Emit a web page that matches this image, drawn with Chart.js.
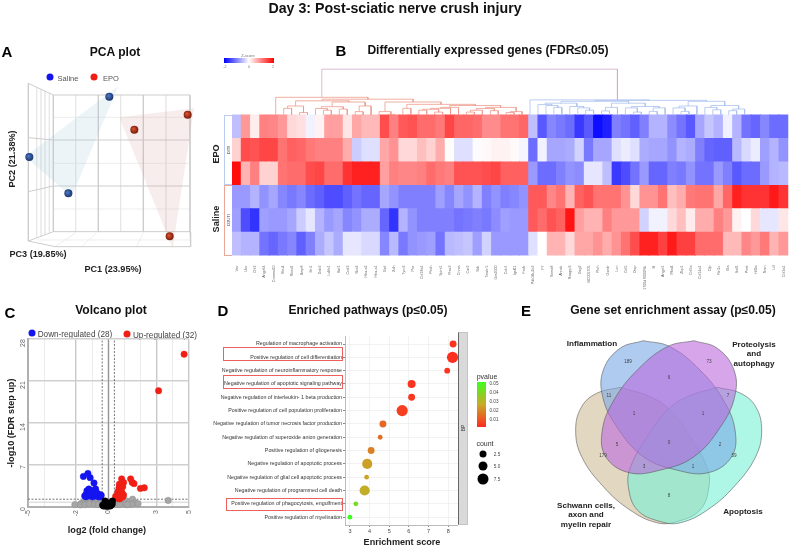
<!DOCTYPE html>
<html>
<head>
<meta charset="utf-8">
<script src="https://cdn.jsdelivr.net/npm/chart.js@4"></script>
<style>
body { margin: 0; background: #fff; }
#page { position: relative; width: 790px; height: 547px; overflow: hidden; font-family: "Liberation Sans", Arial, sans-serif; color: #222; filter: blur(0.35px); }
canvas { position: absolute; }
.t { position: absolute; white-space: nowrap; transform: translate(-50%, -50%); }
.v { position: absolute; white-space: nowrap; transform: translate(-50%, -50%) rotate(-90deg); }
.h { font-weight: bold; font-size: 12.1px; color: #111; }
.ltr { font-weight: bold; font-size: 15px; color: #000; }
.b { font-weight: bold; font-size: 9.1px; color: #222; }
.w { font-weight: bold; font-size: 8.1px; color: #222; }
.n { font-size: 4.6px; color: #444; }
.dot { position: absolute; border-radius: 50%; transform: translate(-50%, -50%); }
.box { position: absolute; box-sizing: border-box; }
</style>
</head>
<body>
<div id="page">
	<div class="t" style="left:395px;top:8px;font-size:14.2px;font-weight:bold;color:#111">Day 3: Post-sciatic nerve crush injury</div>

	<div class="t ltr" style="left:7px;top:51px">A</div>
	<div class="t h" style="left:115px;top:52px">PCA plot</div>
	<div class="dot" style="left:50px;top:77px;width:7px;height:7px;background:#1414f0"></div>
	<div class="t" style="left:68px;top:78px;font-size:7.5px;color:#555">Saline</div>
	<div class="dot" style="left:94px;top:77px;width:7px;height:7px;background:#f01e14"></div>
	<div class="t" style="left:111px;top:78px;font-size:7.5px;color:#555">EPO</div>
	<div class="v b" style="left:12px;top:159px">PC2 (21.38%)</div>
	<div class="t b" style="left:38px;top:254px">PC3 (19.85%)</div>
	<div class="t b" style="left:113px;top:269px">PC1 (23.95%)</div>

	<div class="t ltr" style="left:341px;top:50px">B</div>
	<div class="t h" style="left:488px;top:50px">Differentially expressed genes (FDR≤0.05)</div>
	<div class="t" style="left:248px;top:54.5px;font-size:4px;color:#777">Z-score</div>
	<div class="box" style="left:224px;top:58px;width:50px;height:5px;background:linear-gradient(to right,#00f,#fff,#f00)"></div>
	<div class="t" style="left:225px;top:67px;font-size:3.5px;color:#777">-2</div>
	<div class="t" style="left:249px;top:67px;font-size:3.5px;color:#777">0</div>
	<div class="t" style="left:273px;top:67px;font-size:3.5px;color:#777">2</div>
	<div class="box" style="left:224px;top:115px;width:8px;height:70px;border:1px solid #bccdf2;border-right:0"></div>
	<div class="box" style="left:224px;top:185px;width:8px;height:71px;border:1px solid #eba899;border-right:0"></div>
	<div class="v" style="left:228px;top:150px;font-size:4px;color:#444">D3TI</div>
	<div class="v" style="left:228px;top:220px;font-size:4px;color:#444">D3UTI</div>
	<div class="v b" style="left:216px;top:154px">EPO</div>
	<div class="v b" style="left:216px;top:219px">Saline</div>

	<div class="t ltr" style="left:10px;top:312px">C</div>
	<div class="t h" style="left:111px;top:310px">Volcano plot</div>
	<div class="dot" style="left:32px;top:333px;width:7px;height:7px;background:#1414f0"></div>
	<div class="t" style="left:75px;top:334px;font-size:8.2px;color:#444">Down-regulated (28)</div>
	<div class="dot" style="left:127px;top:334px;width:7px;height:7px;background:#f01e14"></div>
	<div class="t" style="left:165px;top:335px;font-size:8.2px;color:#444">Up-regulated (32)</div>
	<div class="v b" style="left:11px;top:423px">-log10 (FDR step up)</div>
	<div class="t b" style="left:107px;top:530px">log2 (fold change)</div>

	<div class="t ltr" style="left:223px;top:310px">D</div>
	<div class="t h" style="left:368px;top:310px">Enriched pathways (p≤0.05)</div>
	<div class="box" style="left:223px;top:347px;width:120px;height:14px;border:1px solid #ee5f5f"></div>
	<div class="box" style="left:223px;top:375px;width:120px;height:14px;border:1px solid #ee5f5f"></div>
	<div class="box" style="left:226px;top:498px;width:117px;height:13px;border:1px solid #ee5f5f"></div>
	<div class="box" style="left:458px;top:332px;width:10px;height:193px;background:#d9d9d9;border:1px solid #c4c4c4;border-left:1px solid #666"></div>
	<div class="v" style="left:463px;top:428px;font-size:4.5px;color:#333">BP</div>
	<div class="t b" style="left:402px;top:542px">Enrichment score</div>
	<div class="t" style="left:487px;top:376px;font-size:7px;color:#333">pvalue</div>
	<div class="box" style="left:477px;top:382px;width:9px;height:45px;background:linear-gradient(to top,#ff2a1e,#c8aa28 50%,#3cff1e)"></div>
	<div class="t" style="left:494px;top:383px;font-size:4.6px;color:#444">0.05</div>
	<div class="t" style="left:494px;top:392px;font-size:4.6px;color:#444">0.04</div>
	<div class="t" style="left:494px;top:401px;font-size:4.6px;color:#444">0.03</div>
	<div class="t" style="left:494px;top:410px;font-size:4.6px;color:#444">0.02</div>
	<div class="t" style="left:494px;top:419px;font-size:4.6px;color:#444">0.01</div>
	<div class="t" style="left:485px;top:443px;font-size:7px;color:#333">count</div>
	<div class="dot" style="left:483px;top:454px;width:7px;height:7px;background:#000"></div>
	<div class="dot" style="left:483px;top:466px;width:9px;height:9px;background:#000"></div>
	<div class="dot" style="left:483px;top:479px;width:11px;height:11px;background:#000"></div>
	<div class="t" style="left:497px;top:454px;font-size:4.6px;color:#444">2.5</div>
	<div class="t" style="left:497px;top:466px;font-size:4.6px;color:#444">5.0</div>
	<div class="t" style="left:497px;top:479px;font-size:4.6px;color:#444">7.5</div>

	<div class="t ltr" style="left:526px;top:310px">E</div>
	<div class="t h" style="left:673px;top:310px">Gene set enrichment assay (p≤0.05)</div>

	<canvas id="pca" width="200" height="220" style="left:0;top:40px"></canvas>
	<canvas id="heat" width="558" height="222" style="left:232px;top:68px"></canvas>
	<canvas id="volcano" width="186" height="195" style="left:14px;top:330px"></canvas>
	<canvas id="dots" width="248" height="205" style="left:210px;top:332px"></canvas>
	<canvas id="venn" width="280" height="247" style="left:510px;top:300px"></canvas>

	<div class="t w" style="left:592px;top:343px">Inflammation</div>
	<div class="t w" style="left:754px;top:344px">Proteolysis</div>
	<div class="t w" style="left:754px;top:353px">and</div>
	<div class="t w" style="left:754px;top:363px">autophagy</div>
	<div class="t w" style="left:586px;top:505px">Schwann cells,</div>
	<div class="t w" style="left:586px;top:514px">axon and</div>
	<div class="t w" style="left:586px;top:524px">myelin repair</div>
	<div class="t w" style="left:743px;top:511px">Apoptosis</div>
	<div class="t n" style="left:628px;top:361px">189</div>
	<div class="t n" style="left:709px;top:361px">73</div>
	<div class="t n" style="left:669px;top:377px">6</div>
	<div class="t n" style="left:609px;top:395px">11</div>
	<div class="t n" style="left:634px;top:413px">1</div>
	<div class="t n" style="left:703px;top:413px">1</div>
	<div class="t n" style="left:728px;top:395px">7</div>
	<div class="t n" style="left:617px;top:444px">5</div>
	<div class="t n" style="left:669px;top:442px">0</div>
	<div class="t n" style="left:720px;top:444px">2</div>
	<div class="t n" style="left:603px;top:455px">179</div>
	<div class="t n" style="left:734px;top:455px">59</div>
	<div class="t n" style="left:644px;top:466px">3</div>
	<div class="t n" style="left:693px;top:466px">1</div>
	<div class="t n" style="left:669px;top:495px">8</div>
</div>
<script>
Chart.defaults.animation = false;
Chart.defaults.responsive = false;
Chart.defaults.layout.autoPadding = false;
Chart.defaults.font.family = '"Liberation Sans", Arial, sans-serif';
Chart.defaults.plugins.legend.display = false;
Chart.defaults.plugins.tooltip.enabled = false;

// ---- A: PCA (coordinates, plot units = 1/3 px)
var salinePoints = [[328, 170], [88, 351], [205, 460]];
var epoPoints = [[403, 269], [563, 224], [509, 589]];
var salineHull = [[355, 138], [75, 350], [215, 470], [355, 138]];
var epoHull = [[358, 232], [582, 205], [518, 625], [358, 232]];
var wallThin = [
	[227,165,227,575],[362,165,362,575],[498,165,498,575],[160,232,570,232],[160,370,570,370],[160,507,570,507],
	[110,142,110,594],[123,148,123,589],[135,153,135,584],[148,159,148,579],
	[165,620,228,578],[245,620,290,578],[410,620,430,578],[110,600,570,600]
];
var wallThick = [
	[160,165,570,165],[570,165,570,575],[160,575,570,575],[160,165,160,575],
	[295,165,295,575],[430,165,430,575],[160,300,570,300],[160,438,570,438],
	[85,130,160,165],[85,603,160,575],[85,130,85,603],[85,293,160,300],[85,455,160,438],
	[165,620,572,620],[570,575,572,620],[85,603,165,620]
];

// ---- B: heatmap, z-scores per row
var genes = ["Vav","Ubc","Chl3","Angptl4","Commd10","Sbu4","Rbed1","Bmp6","Itln1","Dab2","Ldlrb1","Bst1","Cxcl3","Ska3","Hba-a2","Hba-a1",
	"Esrl","Xdh","Tyro3","Pcx","Col18a1","Pxdn","Spint1","Prss3","Cnnm","Car2","Sdk","Tmsb 5","Gm2000","Cdo1","Igsf11","Fxdk",
	"Pdk1Bu1b2","F7","Sema6","Ahnak","Rasgrp3","Gsg2","BC005705","Ptch","Gsodr","Lcn","Cel5","Dtsp","1700d 6000Rik","Ifi","Angpt1","Mbd4",
	"Zbp1","Col5a","Col14a1","Cfp","Rin1c","Ela","Ikzf1","Prmt","Hif3a","Nrsn","Lif","Col3a1"];
var epoRow1 = [-.5,.8,.15,1,.95,.8,.3,.25,-.1,.1,.75,.75,.2,.7,.55,.55,1.4,1,1.3,1.35,1.15,1.15,1.05,1.45,1.2,1.2,1.15,.9,.9,1.1,1.1,1.2,
	-.5,-1.3,-.95,-1.05,-1.15,-1.55,-1.3,-1.9,-1.75,-1,-1.1,-1.25,-1,-.6,-.6,-.9,-1.1,-1.3,-.7,-.45,-.6,-.12,-.6,-1.1,-1.2,-.95,-1.15,-1.15];
var epoRow2 = [.35,1.4,1.35,1.45,1.45,1.1,1.25,1.2,1.05,1,1,1,.65,-.4,-.25,-.25,.7,.85,.3,.3,.5,.35,.65,.02,-.25,-.25,-.02,.05,.1,.1,.05,-.08,
	-1.15,-.1,-.7,-.7,-.65,-.35,-1.05,-.7,-.7,-.25,-.15,-.25,-.65,-.7,-.7,-.85,-.6,-.65,-1,-1.2,-1.25,-1.25,-.55,-.3,-.15,-.75,-.6,-.85];
var epoRow3 = [1.9,.6,1,.35,.35,1.1,1.15,1.15,1.4,1.45,1.15,1.15,1.6,1.75,1.75,1.75,.75,1,.95,.95,1,1.15,1.05,1,1.35,1.35,1.35,1.4,1.45,1.25,1.25,1.25,
	-.8,-1.15,-1.15,-1,-.85,-.9,-.2,-.2,-.5,-1.55,-1.4,-1.1,-.8,-1.2,-1.2,-1,-1.05,-.85,-1.1,-1.1,-.8,-1,-1.3,-1.15,-1.15,-.8,-.6,-.55];
var salRow1 = [-.8,-.8,-.6,-.85,-.7,-.95,-1.05,-.95,-1.15,-1.25,-1.4,-1.4,-1.25,-1.1,-1.2,-1.2,-.7,-.85,-1,-1,-1,-1,-.75,-.95,-.7,-.85,-.6,-1,-.85,-1,-.95,-.85,
	1.3,1.3,.95,1.1,.6,1.25,1.35,1.1,1.1,1.1,.85,.3,.85,.85,1.1,.5,.65,1.05,1.1,1.1,.7,1.2,1.75,1.6,1.6,1.6,1.8,1.6];
var salRow2 = [-.75,-1.4,-1.6,-.75,-.8,-.8,-.7,-.4,-.2,-.6,-.8,-.7,-.95,-.85,-.65,-.65,-1.2,-1.6,-.6,-.85,-1,-1,-1,-1,-1.1,-1.05,-1,-1.05,-.9,-.75,-.8,-.8,
	1.3,1.15,1.35,1.25,1.85,.75,.6,.6,1,.8,.8,.8,-.35,-.1,-.1,.3,.5,.15,.65,.65,1,.8,.1,0,.3,-.2,-.2,.2];
var salRow3 = [-.5,-.6,-.6,-1.1,-1.2,-1.05,-.95,-1.25,-1,-.65,-.45,-.65,-.2,-.2,-.3,-.3,-.95,-.55,-1.05,-.85,-.8,-.75,-1.1,-.55,-.5,-.45,-.75,-.35,-.8,-.8,-.8,-.8,
	-.25,0,.6,.6,.3,.7,.7,.85,.65,.85,1.1,1.4,1.75,1.75,1.5,1.8,1.5,1.5,1.15,1.15,1.15,.55,.55,.95,.8,1.05,.6,.8];

// dendrogram links: [xLeft, hLeft, xRight, hRight, hTop], x in column index
var dendroRed = [
	[1,0,2,0,.28],[3,0,4,0,.1],[1.5,.28,3.5,.1,.38],[6,0,7,0,.2],[5,0,6.5,.2,.27],[8,0,9,0,.25],[5.75,.27,8.5,.25,.35],
	[10,0,11,0,.14],[10.5,.14,12,0,.38],[7.1,.35,11.25,.38,.55],[2.5,.38,9.2,.55,.6],[14,0,15,0,.02],[13,0,14.5,.02,.14],
	[16,0,17,0,.28],[18,0,19,0,.2],[20,0,21,0,.12],[18.5,.2,20.5,.12,.24],[19.5,.24,22,0,.28],[20.75,.28,23,0,.32],
	[24,0,25,0,.12],[24.5,.12,26,0,.2],[27,0,28,0,.18],[25.25,.2,27.5,.18,.27],[29,0,30,0,.1],[29.5,.1,31,0,.14],
	[26.4,.27,30.25,.14,.32],[21.9,.32,28.3,.32,.4],[16.5,.28,25.1,.4,.45],[13.75,.14,20.8,.45,.55],[5.85,.6,17.3,.55,.67],[0,0,11.6,.67,.75]
];
var dendroBlue = [
	[35,0,36,0,.32],[34,0,35.5,.32,.4],[33,0,34.75,.4,.44],[39,0,40,0,.2],[38,0,39.5,.2,.3],[37,0,38.75,.3,.36],[33.9,.44,37.9,.36,.5],
	[41,0,42,0,.17],[41.5,.17,43,0,.32],[45,0,46,0,.12],[44,0,45.5,.12,.3],[47,0,48,0,.15],[47.5,.15,49,0,.3],[44.75,.3,48.25,.3,.36],
	[42.25,.32,46.5,.36,.5],[35.9,.5,44.4,.5,.58],[51,0,52,0,.15],[50,0,51.5,.15,.3],[50.75,.3,53,0,.38],[55,0,56,0,.22],[54,0,55.5,.22,.32],
	[57,0,58,0,.18],[57.5,.18,59,0,.25],[54.75,.32,58.25,.25,.4],[51.9,.38,56.5,.4,.58],[40.15,.58,54.2,.58,.62],[32,0,47,.62,.64]
];
var dendroTop = [[5.8,.75,43,.64,1.95]];

// ---- C: volcano
var downRegulated = [[-1.55,5.1],[-1.27,5.6],[-1.13,4.9],[-.89,4],[-1.21,3],[-1.33,2.7],[-1.39,2.1],[-1.03,2.4],[-.79,3],[-.73,2.4],[-.54,2.1],[-.5,1.7],
	[-.93,2.1],[-.83,1.85],[-1.27,1.85],[-1.19,2.4],[-.93,2.7],[-.67,1.95],[-.44,1.95],[-1.47,1.85],[-1.07,2.7],[-.87,2.3],[-.73,1.85],[-.59,1.7],[-1.39,1.7],[-1.23,2],[-.99,1.7],[-.79,2.5]];
var upRegulated = [[4.72,25.5],[3.13,19.4],[.83,4.7],[1.39,4.7],[.95,4.1],[.69,3.8],[1.49,4.1],[1.6,3.9],[2,3.1],[2.24,3.2],[.81,3.1],[.75,2.7],[.67,3.2],[.85,2.4],[.95,2],[.65,2.1],[.46,1.8],[.75,1.8],
	[.62,1.5],[.7,1.35],[.8,1.6],[.9,1.7],[.55,1.6],[.6,2.6],[.7,2.2],[.78,2.5],[.88,2.1],[.72,3.4],[.8,3.6],[.9,3.4],[.5,1.5],[.66,1.8]];
var notSignificant = [[-2.08,.4],[-1.69,.6],[-1.53,.7],[-1.39,1],[-1.27,1],[-1.13,.85],[-.99,1.3],[-.93,.7],[-.79,.95],[-.67,.85],[-.56,.7],[-.44,1],[-1.73,.35],[-1.47,.4],[-1.19,.5],[-.87,.45],[-.63,.4],[-.34,.6],
	[.36,.7],[.52,1],[.65,.85],[.79,.85],[.95,.95],[1.15,1],[1.31,.7],[1.51,1.3],[1.65,.7],[1.85,.55],[1.45,.45],[1.05,.45],[.71,.4],[.4,.4],[1.19,.4],[3.73,1.1]];
var nearZero = [[-.35,.3],[-.3,.15],[-.25,.5],[-.2,.2],[-.15,.8],[-.15,.4],[-.1,.1],[-.05,.3],[0,.15],[.05,.3],[.1,.5],[.12,.15],[.18,.3],[.2,.7],[.25,.5],[.26,1],[.02,.55],[-.2,1]];
var volcanoXTicks = [-5, -4, -2, -1, 0, 1, 2, 3, 4, 5];
var volcanoXLabeled = [-5, -2, 0, 3, 5];
var volcanoYTicks = [0, 7, 14, 21, 28];
var pCutoff = 1.3;
var fcCutoff = 0.38;

// ---- D: enrichment
var pathways = ["Regulation of macrophage activation","Positive regulation of cell differentiation","Negative regulation of neuroinflammatory response",
	"Negative regulation of apoptotic signaling pathway","Negative regulation of interleukin- 1 beta production","Positive regulation of cell population proliferation",
	"Negative regulation of tumor necrosis factor production","Negative regulation of superoxide anion generation","Positive regulation of gliogenesis",
	"Negative regulation of apoptotic process","Negative regulation of glial cell apoptotic process","Negative regulation of programmed cell death",
	"Positive regulation of phagocytosis, engulfment","Positive regulation of myelination"];
var enrichment = [8.25,8.22,7.95,6.14,6.14,5.66,4.68,4.54,4.08,3.88,3.85,3.75,3.3,3];
var counts = [4,8,3,5,4,8,4,2,4,7,2,7,2,2];
var pvalues = [.002,.001,.002,.002,.003,.004,.012,.013,.017,.023,.024,.026,.04,.05];

// ---- E: venn outlines (1/3 px units)
var vennInflammation = [[400,122],[480,140],[570,210],[640,300],[675,390],[665,470],[595,518],[500,510],[400,470],[320,380],[278,290],[280,210],[330,145],[400,122]];
var vennProteolysis = [[552,122],[472,140],[382,210],[312,300],[277,390],[287,470],[357,518],[452,510],[552,470],[632,380],[674,290],[672,210],[622,145],[552,122]];
var vennSchwann = [[330,262],[420,290],[480,330],[540,410],[590,500],[597,560],[570,630],[500,665],[440,668],[360,630],[280,560],[215,470],[197,390],[215,320],[260,280],[330,262]];
var vennApoptosis = [[622,262],[532,290],[472,330],[412,410],[362,500],[355,560],[382,630],[452,665],[512,668],[592,630],[672,560],[737,470],[755,390],[737,320],[692,280],[622,262]];

function pts(list) {
	return list.map(function(p) { return {x: p[0], y: p[1]}; });
}
function segments(list) {
	var out = [];
	list.forEach(function(s) {
		out.push({x: s[0], y: s[1]}, {x: s[2], y: s[3]}, {x: NaN, y: NaN});
	});
	return out;
}
function links(list) {
	var out = [];
	list.forEach(function(l) {
		out.push({x: l[0], y: l[1]}, {x: l[0], y: l[4]}, {x: l[2], y: l[4]}, {x: l[2], y: l[3]}, {x: NaN, y: NaN});
	});
	return out;
}
function zColor(z) {
	var t = Math.min(Math.abs(z) / 2, 1), c = Math.round(255 * (1 - t));
	return z >= 0 ? 'rgb(255,' + c + ',' + c + ')' : 'rgb(' + c + ',' + c + ',255)';
}
function pColor(p) {
	var low = [255, 42, 30], mid = [200, 170, 40], high = [60, 255, 30], t = p / 0.05, a, b, k;
	if (t < 0.5) { a = low; b = mid; k = t * 2; } else { a = mid; b = high; k = (t - 0.5) * 2; }
	return 'rgb(' + [0, 1, 2].map(function(i) { return Math.round(a[i] + (b[i] - a[i]) * k); }).join(',') + ')';
}
function sphere(base, dark) {
	return function(ctx) {
		var chart = ctx.chart, d = ctx.raw;
		if (!d || !chart.scales.x) return base;
		var px = chart.scales.x.getPixelForValue(d.x), py = chart.scales.y.getPixelForValue(d.y);
		if (!isFinite(px) || !isFinite(py)) return base;
		var g = chart.ctx.createRadialGradient(px - 1, py - 1, 0.5, px, py, 4.5);
		g.addColorStop(0, base);
		g.addColorStop(1, dark);
		return g;
	};
}
function hiddenLinear(min, max, reverse) {
	return {type: 'linear', display: false, min: min, max: max, reverse: !!reverse};
}

// A
new Chart(document.getElementById('pca'), {
	type: 'scatter',
	data: {datasets: [
		{data: pts(salinePoints), pointRadius: 4, pointBackgroundColor: sphere('#4a74c4', '#16305f'), pointBorderWidth: 0, order: 0},
		{data: pts(epoPoints), pointRadius: 4, pointBackgroundColor: sphere('#d8502c', '#6e1608'), pointBorderWidth: 0, order: 0},
		{data: pts(salineHull), showLine: true, fill: 'shape', borderWidth: 0, pointRadius: 0, backgroundColor: 'rgba(165,200,220,.2)', order: 1},
		{data: pts(epoHull), showLine: true, fill: 'shape', borderWidth: 0, pointRadius: 0, backgroundColor: 'rgba(220,165,165,.2)', order: 1},
		{data: segments(wallThick), showLine: true, borderWidth: 1, borderColor: '#cdcdcd', pointRadius: 0, order: 2},
		{data: segments(wallThin), showLine: true, borderWidth: 0.7, borderColor: '#e6e6e6', pointRadius: 0, order: 3}
	]},
	options: {scales: {x: hiddenLinear(0, 600), y: hiddenLinear(0, 660, true)}}
});

// B
var heatRows = [salRow3, salRow2, salRow1, epoRow3, epoRow2, epoRow1];
var heatSets = heatRows.map(function(row) {
	return {
		type: 'bar', data: row.map(function() { return 1; }), backgroundColor: row.map(zColor),
		barThickness: 9.6, grouped: false, borderWidth: 0, order: 1
	};
});
function dendroSet(list, color) {
	return {type: 'scatter', data: links(list), showLine: true, pointRadius: 0, borderWidth: 0.8, borderColor: color, xAxisID: 'xd', yAxisID: 'yd', order: 0};
}
heatSets.push(dendroSet(dendroRed, '#ee9a8c'), dendroSet(dendroBlue, '#a9c2ee'), dendroSet(dendroTop, '#cfa9c8'));
new Chart(document.getElementById('heat'), {
	type: 'bar',
	data: {labels: genes, datasets: heatSets},
	options: {
		scales: {
			x: {
				stacked: true, grid: {display: false}, border: {display: false},
				ticks: {autoSkip: false, minRotation: 90, maxRotation: 90, padding: 2, font: {size: 3.6}, color: '#666'},
				afterFit: function(s) { s.height = 34.4; }
			},
			y: {stacked: true, display: false, min: 0, max: 8},
			xd: hiddenLinear(-0.5, 59.5),
			yd: hiddenLinear(-6, 2)
		}
	}
});

// C
function guide(list, color, width, dash) {
	return {data: segments(list), showLine: true, borderColor: color, borderWidth: width, borderDash: dash || [], pointRadius: 0, order: 5};
}
function dots(list, color, edge, order) {
	return {data: pts(list), pointRadius: 3.2, backgroundColor: color, borderColor: edge, borderWidth: 0.5, clip: false, order: order};
}
new Chart(document.getElementById('volcano'), {
	type: 'scatter',
	data: {datasets: [
		dots(nearZero, '#000', '#000', 0),
		dots(downRegulated, '#1414f0', '#1414f0', 1),
		dots(upRegulated, '#f01e14', '#f01e14', 1),
		dots(notSignificant, '#a6a6a6', '#8c8c8c', 2),
		guide([[-5, 0.8, 5, 0.8]], '#d0d0d0', 1),
		guide([[-5, pCutoff, 5, pCutoff]], '#555', 0.8, [2, 1.5]),
		guide([[-fcCutoff, 0, -fcCutoff, 28], [fcCutoff, 0, fcCutoff, 28]], '#555', 0.8, [2, 1.5]),
		guide([[0, 0, 0, 28]], '#8a8a8a', 1)
	]},
	options: {
		layout: {padding: {top: 9, right: 3}},
		scales: {
			x: {
				type: 'linear', min: -5, max: 5,
				afterBuildTicks: function(s) { s.ticks = volcanoXTicks.map(function(v) { return {value: v}; }); },
				grid: {
					drawTicks: false, color: function(c) { return volcanoXLabeled.indexOf(c.tick.value) >= 0 ? '#c8c8c8' : '#e6e6e6'; },
					lineWidth: function(c) { return volcanoXLabeled.indexOf(c.tick.value) >= 0 ? 1.4 : 0.8; }
				},
				border: {color: '#b0b0b0', width: 2},
				ticks: {
					autoSkip: false, minRotation: 90, maxRotation: 90, padding: 3, font: {size: 7}, color: '#666',
					callback: function(v) { return volcanoXLabeled.indexOf(v) >= 0 ? String(v) : ''; }
				},
				afterFit: function(s) { s.height = 18; }
			},
			y: {
				type: 'linear', min: 0, max: 28,
				afterBuildTicks: function(s) { s.ticks = volcanoYTicks.map(function(v) { return {value: v}; }); },
				grid: {drawTicks: false, color: '#cfcfcf', lineWidth: 1.6},
				border: {color: '#b0b0b0', width: 2},
				ticks: {minRotation: 90, maxRotation: 90, padding: 5, font: {size: 7}, color: '#666'},
				afterFit: function(s) { s.width = 14; }
			}
		}
	}
});

// D
new Chart(document.getElementById('dots'), {
	type: 'bubble',
	data: {datasets: [{
		data: enrichment.map(function(v, i) { return {x: v, y: i + 1, r: 1.3 + 0.54 * counts[i]}; }),
		backgroundColor: pvalues.map(pColor), borderWidth: 0, clip: false
	}]},
	options: {
		scales: {
			x: {
				type: 'linear', min: 2.75, max: 8.5,
				afterBuildTicks: function(s) { s.ticks = [3, 4, 5, 6, 7, 8].map(function(v) { return {value: v}; }); },
				grid: {color: '#ececec', tickColor: '#555', tickLength: 2, lineWidth: 0.7},
				border: {color: '#bbb', width: 1},
				ticks: {maxRotation: 0, padding: 1, font: {size: 5.5}, color: '#444'},
				afterFit: function(s) { s.height = 12; }
			},
			y: {
				type: 'linear', reverse: true, min: 0.41, max: 14.59,
				afterBuildTicks: function(s) { s.ticks = pathways.map(function(p, i) { return {value: i + 1}; }); },
				grid: {color: '#ececec', tickColor: '#555', tickLength: 2, lineWidth: 0.7},
				border: {color: '#bbb', width: 1},
				ticks: {
					autoSkip: false, padding: 1, font: {size: 5.3}, color: '#333',
					callback: function(v) { return pathways[v - 1]; }
				},
				afterFit: function(s) { s.width = 135; }
			}
		}
	}
});

// E
function vennSet(list, fill, order) {
	return {data: pts(list), showLine: true, fill: 'shape', tension: 0.4, pointRadius: 0, borderWidth: 0.8, borderColor: 'rgba(90,90,90,.75)', backgroundColor: fill, order: order};
}
new Chart(document.getElementById('venn'), {
	type: 'scatter',
	data: {datasets: [
		vennSet(vennApoptosis, 'rgba(120,240,213,.6)', 3),
		vennSet(vennSchwann, 'rgba(207,190,153,.6)', 4),
		vennSet(vennProteolysis, 'rgba(187,105,220,.6)', 1),
		vennSet(vennInflammation, 'rgba(123,168,230,.6)', 2)
	]},
	options: {scales: {x: hiddenLinear(0, 840), y: hiddenLinear(0, 741, true)}}
});
</script>
</body>
</html>
